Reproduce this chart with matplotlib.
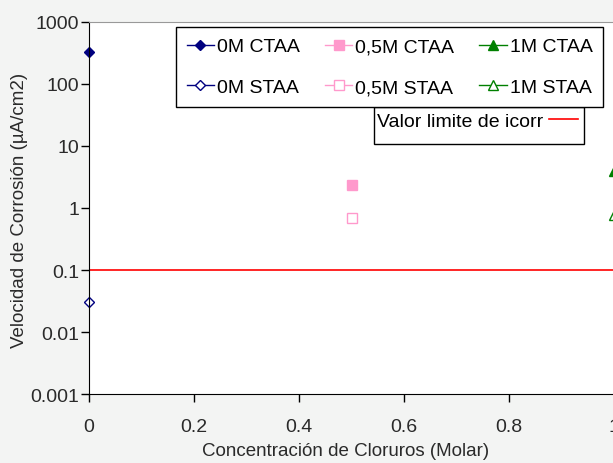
import matplotlib.pyplot as plt
from matplotlib.patches import Rectangle
from matplotlib.ticker import NullLocator, FixedFormatter, FixedLocator

plt.rcParams['font.family'] = ['Liberation Sans', 'DejaVu Sans']

# concentracion de cloruros (M) y velocidad de corrosion (uA/cm2)
conc_0m = [0.0]
conc_05m = [0.5]
conc_1m = [1.0]
ctaa_0m = [330]
staa_0m = [0.030]
ctaa_05m = [2.35]
staa_05m = [0.69]
ctaa_1m = [4.0]
staa_1m = [0.78]
icorr_limit = 0.1

y_ticks = [0.001, 0.01, 0.1, 1, 10, 100, 1000]
y_labels = ['0.001', '0.01', '0.1', '1', '10', '100', '1000']

W, H = 613, 464
fig = plt.figure(figsize=(W / 100, H / 100), dpi=100, facecolor='#f3f4f3')
# axes run past the right edge of the picture (cropped chart)
ax = fig.add_axes([89 / W, 1 - 395 / H, 1.2 * 525 / W, (395 - 23) / H])
ax.set_facecolor('white')

navy = '#000080'
pink = '#ff99cc'
green = '#008000'

h1, = ax.plot(conc_0m, ctaa_0m, '-D', color=navy, mfc=navy, mec=navy, ms=5, lw=1, clip_on=False, label='0M CTAA')
h2, = ax.plot(conc_0m, staa_0m, '-D', color=navy, mfc='white', mec=navy, ms=5, lw=1, clip_on=False, label='0M STAA')
h3, = ax.plot(conc_05m, ctaa_05m, '-s', color=pink, mfc=pink, mec=pink, ms=7.5, lw=1, label='0,5M CTAA')
h4, = ax.plot(conc_05m, staa_05m, '-s', color=pink, mfc='white', mec=pink, ms=7.5, lw=1, label='0,5M STAA')
h5, = ax.plot(conc_1m, ctaa_1m, '-^', color=green, mfc=green, mec=green, ms=7, lw=1, label='1M CTAA')
h6, = ax.plot(conc_1m, staa_1m, '-^', color=green, mfc='white', mec=green, ms=7, lw=1, label='1M STAA')
hl = ax.axhline(icorr_limit, color='#ff0000', lw=1.2, label='Valor limite de icorr')

ax.set_yscale('log')
ax.set_ylim(0.001, 1000)
ax.set_xlim(0, 1.2)
ax.yaxis.set_major_locator(FixedLocator(y_ticks))
ax.yaxis.set_major_formatter(FixedFormatter(y_labels))
ax.yaxis.set_minor_locator(NullLocator())
ax.set_xticks([0, 0.2, 0.4, 0.6, 0.8, 1.0, 1.2])
ax.set_xticklabels(['0', '0.2', '0.4', '0.6', '0.8', '1', '1.2'])
ax.tick_params(direction='out', length=6, width=1, labelsize=14, colors='black')
ax.tick_params(axis='y', pad=1)
ax.tick_params(axis='x', pad=11)
for tl in ax.get_xticklabels() + ax.get_yticklabels():
    tl.set_color('#2a2a2a')

ax.spines['top'].set_color('#999999')
ax.spines['right'].set_visible(False)
ax.spines['left'].set_color('black')
ax.spines['bottom'].set_color('black')

fig.text(346 / W, 1 - 452 / H, 'Concentración de Cloruros (Molar)', ha='center', va='center',
         fontsize=13.5, color='#2a2a2a')
fig.text(20 / W, 1 - 210 / H, 'Velocidad de Corrosión (µA/cm2)', rotation=90,
         ha='center', va='center', fontsize=13.5, color='#2a2a2a')

leg1 = fig.legend(handles=[h1, h2, h3, h4, h5, h6], ncol=3, loc='upper left',
                  bbox_to_anchor=(176 / W, 1 - 28 / H), fontsize=14, frameon=True,
                  fancybox=False, edgecolor='black', framealpha=1, handlelength=1.4,
                  handletextpad=0.15, columnspacing=1.3, labelspacing=1.2, borderpad=0.55,
                  borderaxespad=0)
leg1.get_frame().set_linewidth(1)

# second legend box is taller than its single entry
fig.patches.append(Rectangle((374 / W, 1 - 145 / H), 210 / W, 37 / H, transform=fig.transFigure,
                             facecolor='white', edgecolor='black', lw=1, zorder=1))
fig.legend(handles=[hl], loc='upper left', bbox_to_anchor=(375 / W, 1 - 111 / H),
           fontsize=14, frameon=False, markerfirst=False, handlelength=1.5,
           handletextpad=0.3, borderpad=0.1, borderaxespad=0)

fig.savefig('out.png', dpi=100, facecolor=fig.get_facecolor())
